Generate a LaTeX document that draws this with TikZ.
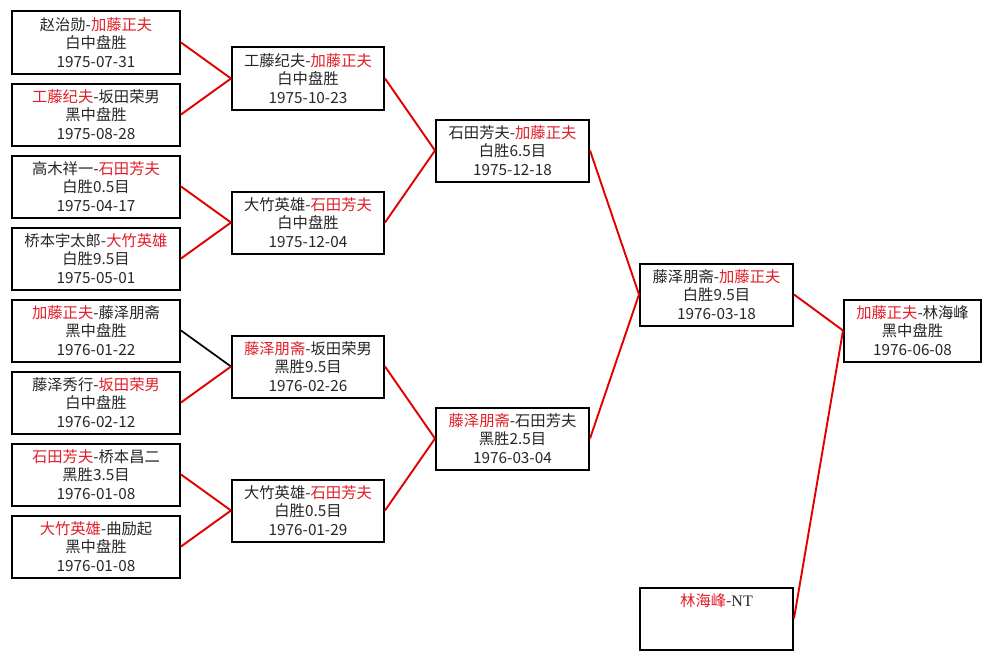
\documentclass[tikz,border=0pt]{standalone}
\usepackage{fontspec}
\newfontfamily\cjk{Noto Sans CJK SC}
\newfontfamily\ntfont{Liberation Serif}
\definecolor{wintext}{RGB}{225,30,40}
\definecolor{winline}{RGB}{225,0,0}
\newcommand\win[1]{\textcolor{wintext}{#1}}
\tikzset{
  game/.style={draw=black, line width=2pt, fill=white, inner sep=0pt, align=center,
    minimum height=62pt, font=\cjk\fontsize{15.3}{18.6}\selectfont, text=black!85},
  wa/.style={game, minimum width=168pt},
  wb/.style={game, minimum width=152pt},
  wc/.style={game, minimum width=153pt},
  wd/.style={game, minimum width=137pt},
  link/.style={draw=winline, line width=1.9pt},
  lose/.style={draw=black, line width=1.7pt}
}
\begin{document}
\begin{tikzpicture}[x=1pt,y=-1pt]
\fill[white] (0,0) rectangle (992,661);
\useasboundingbox (0,0) rectangle (992,661);
% column 1
\node[wa] (a1) at (96,42.5) {赵治勋-\win{加藤正夫}\\白中盘胜\\1975-07-31};
\node[wa] (a2) at (96,114.5) {\win{工藤纪夫}-坂田荣男\\黑中盘胜\\1975-08-28};
\node[wa] (a3) at (96,186.5) {高木祥一-\win{石田芳夫}\\白胜0.5目\\1975-04-17};
\node[wa] (a4) at (96,258.5) {桥本宇太郎-\win{大竹英雄}\\白胜9.5目\\1975-05-01};
\node[wa] (a5) at (96,330.5) {\win{加藤正夫}-藤泽朋斋\\黑中盘胜\\1976-01-22};
\node[wa] (a6) at (96,402.5) {藤泽秀行-\win{坂田荣男}\\白中盘胜\\1976-02-12};
\node[wa] (a7) at (96,474.5) {\win{石田芳夫}-桥本昌二\\黑胜3.5目\\1976-01-08};
\node[wa] (a8) at (96,546.5) {\win{大竹英雄}-曲励起\\黑中盘胜\\1976-01-08};
% column 2
\node[wb] (b1) at (308,78.5) {工藤纪夫-\win{加藤正夫}\\白中盘胜\\1975-10-23};
\node[wb] (b2) at (308,222.5) {大竹英雄-\win{石田芳夫}\\白中盘胜\\1975-12-04};
\node[wb] (b3) at (308,366.5) {\win{藤泽朋斋}-坂田荣男\\黑胜9.5目\\1976-02-26};
\node[wb] (b4) at (308,510.5) {大竹英雄-\win{石田芳夫}\\白胜0.5目\\1976-01-29};
% column 3
\node[wc] (c1) at (512.5,150.5) {石田芳夫-\win{加藤正夫}\\白胜6.5目\\1975-12-18};
\node[wc] (c2) at (512.5,438.5) {\win{藤泽朋斋}-石田芳夫\\黑胜2.5目\\1976-03-04};
% column 4
\node[wc] (d1) at (716.5,294.5) {藤泽朋斋-\win{加藤正夫}\\白胜9.5目\\1976-03-18};
\node[wc] (d2) at (716.5,618.5) {\win{林海峰}-{\ntfont\fontsize{16}{18.6}\selectfont NT}\\\phantom{白}\\\phantom{1}};
% final
\node[wd] (e1) at (912.5,330.5) {\win{加藤正夫}-林海峰\\黑中盘胜\\1976-06-08};
% connectors
\draw[link] (a1.east) -- (b1.west);
\draw[link] (a2.east) -- (b1.west);
\draw[link] (a3.east) -- (b2.west);
\draw[link] (a4.east) -- (b2.west);
\draw[lose] (a5.east) -- (b3.west);
\draw[link] (a6.east) -- (b3.west);
\draw[link] (a7.east) -- (b4.west);
\draw[link] (a8.east) -- (b4.west);
\draw[link] (b1.east) -- (c1.west);
\draw[link] (b2.east) -- (c1.west);
\draw[link] (b3.east) -- (c2.west);
\draw[link] (b4.east) -- (c2.west);
\draw[link] (c1.east) -- (d1.west);
\draw[link] (c2.east) -- (d1.west);
\draw[link] (d1.east) -- (e1.west);
\draw[link] (d2.east) -- (e1.west);
\end{tikzpicture}
\end{document}
